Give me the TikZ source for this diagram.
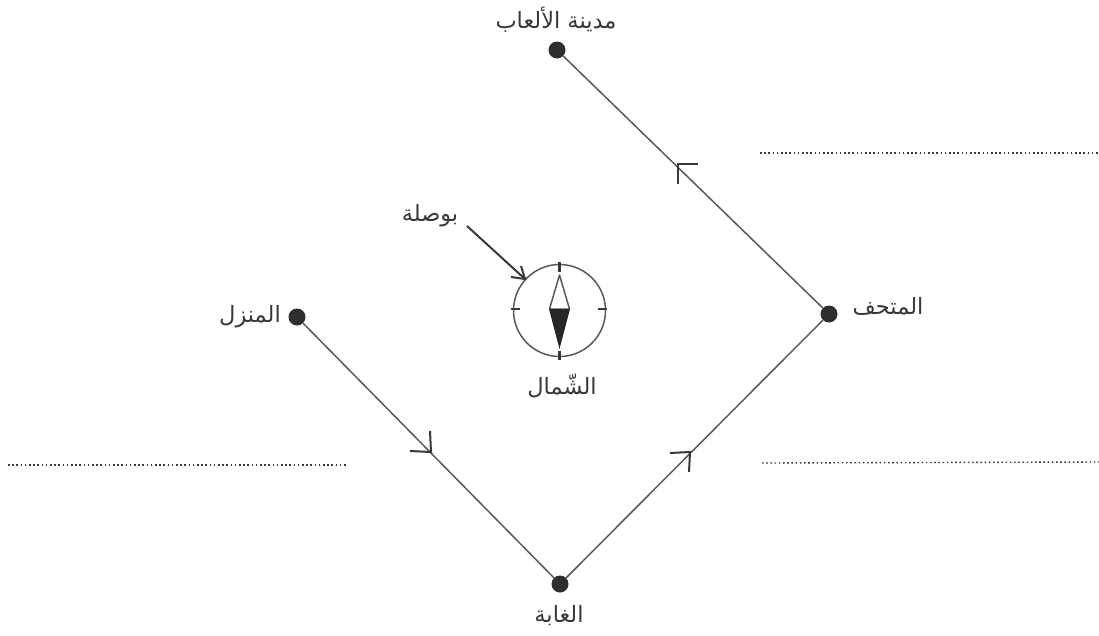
\documentclass[tikz,border=0pt]{standalone}
\usepackage{fontspec}
\newfontfamily\arabicfont[Script=Arabic]{DejaVu Sans}
\TeXXeTstate=1
\definecolor{ink}{gray}{0.22}
\definecolor{thinink}{gray}{0.35}
\tikzset{
  x=1pt,y=-1pt,
  place/.style={circle,fill=black!82,inner sep=0pt,minimum size=17pt},
  route/.style={draw=thinink,line width=1.5pt},
  barb/.style={draw=ink,line width=2pt},
  dots/.style={draw=ink,line width=1.4pt,dash pattern=on 1.6pt off 2.6pt},
  lbl/.style={text=ink,inner sep=0pt,font=\arabicfont\fontsize{22.5}{27}\selectfont},
  ring/.style={circle,draw=thinink,line width=1.5pt,minimum size=92pt,inner sep=0pt},
  tick/.style={draw=ink,line width=2.4pt}
}
\begin{document}
\begin{tikzpicture}
\useasboundingbox (0,0) rectangle (1099,635);
% places
\node[place] (park) at (557,50) {};
\node[place] (museum) at (829,314) {};
\node[place] (forest) at (560,584) {};
\node[place] (home) at (297,317) {};
% labels
\node[lbl] (lpark) at (556,20) {\beginR مدينة الألعاب\endR};
\node[lbl] (lmuseum) at (888,306) {\beginR المتحف\endR};
\node[lbl] (lhome) at (250,317) {\beginR المنزل\endR};
\node[lbl] (lforest) at (559,616) {\beginR الغابة\endR};
\node[lbl] (lnorth) at (562,386) {\beginR الشّمال\endR};
\node[lbl] (lcompass) at (430,216) {\beginR بوصلة\endR};
% routes
\draw[route] (home) -- (forest);
\draw[route] (forest) -- (museum);
\draw[route] (museum) -- (park);
% direction marks
\coordinate (a1) at (431,452);
\coordinate (a2) at (690,452);
\coordinate (a3) at (678,164);
\draw[barb] (a1) ++(-21,-1) -- (a1) -- ++(-1,-21);
\draw[barb] (a2) ++(-20,1) -- (a2) -- ++(-1,20);
\draw[barb] (a3) ++(20,0) -- (a3) -- ++(0,20);
% dotted lines
\coordinate (d1a) at (760,153); \coordinate (d1b) at (1099,153);
\coordinate (d2a) at (762,463); \coordinate (d2b) at (1099,462);
\coordinate (d3a) at (8,465);   \coordinate (d3b) at (348,465);
\draw[dots] (d1a) -- (d1b);
\draw[dots] (d2a) -- (d2b);
\draw[dots] (d3a) -- (d3b);
% compass
\node[ring] (compass) at (559.5,310.5) {};
\draw[tick] (559.5,262) -- (559.5,272);
\draw[tick] (559.5,351) -- (559.5,360);
\draw[tick] (511,309) -- (520,309);
\draw[tick] (598,309) -- (607,309);
\draw[thinink,line width=1.5pt,line join=round] (559.5,275) -- (549.5,309) -- (569.5,309) -- cycle;
\fill[black!85] (549,309) -- (570,309) -- (559.5,349) -- cycle;
% pointer
\coordinate (pstart) at (467,226);
\coordinate (ptip) at (525,279);
\draw[ink,line width=2pt] (pstart) -- (ptip);
\draw[barb] (ptip) ++(-14,-2) -- (ptip) -- ++(-4,-13);
\end{tikzpicture}
\end{document}
